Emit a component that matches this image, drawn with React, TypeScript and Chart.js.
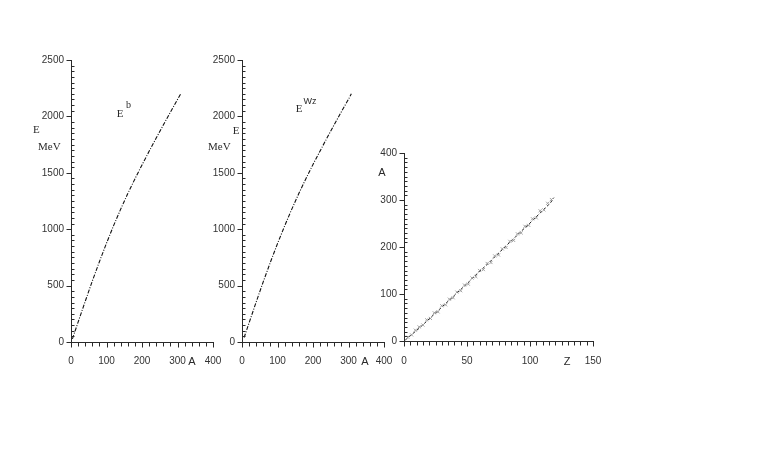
import React, { useEffect, useRef } from 'react';
import { Chart, registerables } from 'chart.js';

Chart.register(...registerables);

// ---------- data ----------
const massNumbersB = [4, 20, 40, 60, 80, 100, 120, 140, 160, 180, 200, 220, 240, 260, 280, 300, 310];
const bindingB = [28, 176, 360, 540, 712, 876, 1032, 1178, 1316, 1446, 1570, 1690, 1808, 1924, 2038, 2150, 2205];

const massNumbersWz = [6, 20, 40, 60, 80, 100, 120, 140, 160, 180, 200, 220, 240, 260, 280, 300, 308];
const bindingWz = [40, 170, 355, 535, 708, 872, 1028, 1176, 1316, 1448, 1574, 1694, 1812, 1928, 2042, 2152, 2200];

const lineZ = [1, 4, 8, 12, 16, 20, 24, 28, 32, 36, 40, 44, 48, 52, 56, 60, 64, 68, 72, 76, 80, 84, 88, 92, 96, 100, 104, 108, 112, 116, 119];
const lineA = [2, 9, 18, 27, 37, 47, 57, 67, 77, 87, 97, 107, 117, 127, 138, 148, 158, 168, 179, 189, 200, 210, 220, 231, 241, 251, 262, 272, 283, 293, 305];

const isotopeZ = [3, 6, 9, 12, 15, 18, 21, 24, 27, 30, 33, 36, 39, 42, 45, 48, 51, 54, 57, 60, 63, 66, 69, 72, 75, 78, 81, 84, 87, 90, 93, 96, 99, 102, 105, 108, 111, 114, 117];
const isotopeA = [8, 13, 23, 30, 34, 45, 48, 60, 62, 75, 77, 89, 92, 104, 107, 119, 121, 134, 137, 150, 152, 165, 167, 181, 183, 196, 199, 212, 214, 228, 230, 244, 246, 260, 262, 277, 279, 293, 301];

const energyTicks = [0, 500, 1000, 1500, 2000, 2500];
const massTicks = [0, 100, 200, 300, 400];
const zTicks = [0, 50, 100, 150];
const aTicks = [0, 100, 200, 300, 400];

// ---------- style ----------
const INK = '#2a2a2a';
const SANS = '"Liberation Sans", Arial, sans-serif';
const SERIF = '"Liberation Serif", "Times New Roman", serif';

const axisDecor = {
  id: 'axisDecor',
  afterDraw(chart: any, _args: any, o: any) {
    const { ctx, chartArea: ca, scales } = chart;
    const xs = scales.x;
    const ys = scales.y;
    ctx.save();
    ctx.strokeStyle = INK;
    ctx.lineWidth = 1;
    const seg = (x1: number, y1: number, x2: number, y2: number) => {
      ctx.beginPath();
      ctx.moveTo(x1, y1);
      ctx.lineTo(x2, y2);
      ctx.stroke();
    };
    const isMajor = (v: number, step: number) => Math.abs(v / step - Math.round(v / step)) < 1e-6;
    const lx = Math.round(ca.left) + 0.5;
    const by = Math.round(ca.bottom) + 0.5;
    const ny = Math.round((ys.max - ys.min) / o.yMinor);
    for (let i = 0; i <= ny; i++) {
      const v = ys.min + i * o.yMinor;
      const py = Math.round(ys.getPixelForValue(v)) + 0.5;
      if (isMajor(v, o.yMajor)) seg(lx - 5, py, lx, py);
      else seg(lx, py, lx + 3, py);
    }
    const nx = Math.round((xs.max - xs.min) / o.xMinor);
    for (let i = 0; i <= nx; i++) {
      const v = xs.min + i * o.xMinor;
      const px = Math.round(xs.getPixelForValue(v)) + 0.5;
      seg(px, by, px, by + (isMajor(v, o.xMajor) ? 5 : 4));
    }
    ctx.fillStyle = INK;
    ctx.textBaseline = 'middle';
    for (const t of o.texts) {
      ctx.font = t.font;
      ctx.textAlign = t.align || 'center';
      ctx.fillText(t.t, ca.left + t.x, ca.top + t.y);
    }
    ctx.restore();
  },
};

function makeScales(xMax: number, xTicks: number[], yMax: number, yTicks: number[], yWidth: number, xHeight: number, xPad: number) {
  const tickFont = { family: SANS, size: 10 };
  const plain = (v: any) => String(v);
  return {
    x: {
      type: 'linear',
      min: 0,
      max: xMax,
      afterFit: (s: any) => { s.height = xHeight; },
      afterBuildTicks: (s: any) => { s.ticks = xTicks.map((v) => ({ value: v })); },
      grid: { display: true, drawOnChartArea: false, drawTicks: false, color: 'rgba(0,0,0,0)' },
      border: { display: true, color: INK, width: 1 },
      ticks: { font: tickFont, color: '#333', padding: xPad, maxRotation: 0, autoSkip: false, callback: plain },
    },
    y: {
      type: 'linear',
      min: 0,
      max: yMax,
      afterFit: (s: any) => { s.width = yWidth; },
      afterBuildTicks: (s: any) => { s.ticks = yTicks.map((v) => ({ value: v })); },
      grid: { display: true, drawOnChartArea: false, drawTicks: false, color: 'rgba(0,0,0,0)' },
      border: { display: true, color: INK, width: 1 },
      ticks: { font: tickFont, color: '#333', padding: 7, autoSkip: false, callback: plain },
    },
  };
}

const curveStyle = {
  showLine: true,
  borderColor: '#111',
  borderWidth: 1.1,
  borderDash: [4, 1.5, 1, 1.5],
  pointRadius: 0,
  tension: 0,
};

const config1 = {
  type: 'scatter',
  data: {
    datasets: [
      { ...curveStyle, data: massNumbersB.map((a, i) => ({ x: a, y: bindingB[i] })) },
    ],
  },
  options: {
    animation: false,
    responsive: false,
    layout: { padding: { left: 0, top: 20, right: 22, bottom: 0 } },
    scales: makeScales(400, massTicks, 2500, energyTicks, 71, 38, 13),
    plugins: {
      legend: { display: false },
      tooltip: { enabled: false },
      axisDecor: {
        xMinor: 20, xMajor: 100, yMinor: 50, yMajor: 500,
        texts: [
          { t: 'E', x: -38, y: 70, font: `11px ${SERIF}`, align: 'left' },
          { t: 'MeV', x: -33, y: 87, font: `11px ${SERIF}`, align: 'left' },
          { t: 'A', x: 121, y: 302, font: `11px ${SANS}` },
          { t: 'E', x: 49, y: 54, font: `11px ${SERIF}` },
          { t: 'b', x: 57.5, y: 45.5, font: `10px ${SERIF}` },
        ],
      },
    },
  },
  plugins: [axisDecor],
};

const config2 = {
  type: 'scatter',
  data: {
    datasets: [
      { ...curveStyle, data: massNumbersWz.map((a, i) => ({ x: a, y: bindingWz[i] })) },
    ],
  },
  options: {
    animation: false,
    responsive: false,
    layout: { padding: { left: 0, top: 20, right: 22, bottom: 0 } },
    scales: makeScales(400, massTicks, 2500, energyTicks, 71, 38, 13),
    plugins: {
      legend: { display: false },
      tooltip: { enabled: false },
      axisDecor: {
        xMinor: 20, xMajor: 100, yMinor: 50, yMajor: 500,
        texts: [
          { t: 'E', x: -6, y: 71, font: `11px ${SERIF}` },
          { t: 'MeV', x: -34, y: 87, font: `11px ${SERIF}`, align: 'left' },
          { t: 'A', x: 123, y: 302, font: `11px ${SANS}` },
          { t: 'E', x: 57, y: 49, font: `11px ${SERIF}` },
          { t: 'Wz', x: 68, y: 42, font: `9px ${SANS}` },
        ],
      },
    },
  },
  plugins: [axisDecor],
};

const config3 = {
  type: 'scatter',
  data: {
    datasets: [
      {
        showLine: false,
        data: isotopeZ.map((z, i) => ({ x: z, y: isotopeA[i] })),
        pointStyle: 'crossRot',
        pointRadius: 2.2,
        borderColor: '#9a9a9a',
        borderWidth: 0.9,
      },
      {
        showLine: true,
        data: lineZ.map((z, i) => ({ x: z, y: lineA[i] })),
        borderColor: '#222',
        borderWidth: 1,
        borderDash: [3, 2],
        pointRadius: 0,
      },
    ],
  },
  options: {
    animation: false,
    responsive: false,
    layout: { padding: { left: 0, top: 33, right: 27, bottom: 0 } },
    scales: makeScales(150, zTicks, 400, aTicks, 64, 39, 14),
    plugins: {
      legend: { display: false },
      tooltip: { enabled: false },
      axisDecor: {
        xMinor: 5, xMajor: 50, yMinor: 10, yMajor: 100,
        texts: [
          { t: 'A', x: -22, y: 20, font: `11px ${SANS}` },
          { t: 'Z', x: 163, y: 209, font: `11px ${SANS}` },
        ],
      },
    },
  },
  plugins: [axisDecor],
};

function Panel({ config, left, top, width, height }: any) {
  const ref = useRef<HTMLCanvasElement | null>(null);
  useEffect(() => {
    if (!ref.current) return;
    const chart = new Chart(ref.current, config as any);
    return () => chart.destroy();
  }, [config]);
  return (
    <canvas
      ref={ref}
      width={width}
      height={height}
      style={{ position: 'absolute', left, top, width, height }}
    />
  );
}

export default function App() {
  return (
    <div style={{ position: 'fixed', left: 0, top: 0, width: 763, height: 450, background: '#fff', overflow: 'hidden' }}>
      <Panel config={config1} left={0} top={40} width={235} height={340} />
      <Panel config={config2} left={171} top={40} width={235} height={340} />
      <Panel config={config3} left={340} top={120} width={280} height={260} />
    </div>
  );
}
